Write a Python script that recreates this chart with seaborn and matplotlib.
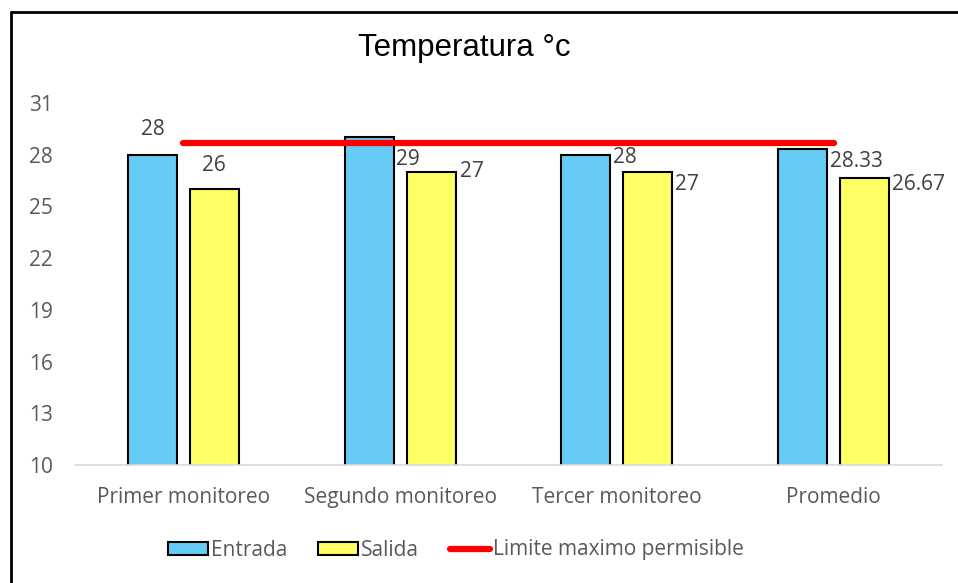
import matplotlib
matplotlib.use("Agg")
import matplotlib.pyplot as plt
import seaborn as sns
import pandas as pd
from matplotlib.patches import Patch
from matplotlib.lines import Line2D

# data
categorias = ["Primer monitoreo", "Segundo monitoreo", "Tercer monitoreo", "Promedio"]
entrada = [28, 29, 28, 28.33]
salida = [26, 27, 27, 26.67]
limite = 28.7
etiquetas_entrada = ["28", "29", "28", "28.33"]
etiquetas_salida = ["26", "27", "27", "26.67"]

sns.set_style("white")
plt.rcParams['font.family'] = ['Open Sans', 'DejaVu Sans']

df = pd.DataFrame({
    "categoria": categorias * 2,
    "valor": entrada + salida,
    "serie": ["Entrada"] * 4 + ["Salida"] * 4,
})

fig = plt.figure(figsize=(9.58, 5.83), dpi=100)
ax = fig.add_axes([75 / 958, 1 - 465 / 583, (942 - 75) / 958, (465 - 103) / 583])

azul = "#66CCF5"
amarillo = "#FFFF66"
sns.barplot(data=df, x="categoria", y="valor", hue="serie",
            palette=[azul, amarillo], saturation=1, width=0.572, gap=0.21,
            edgecolor="black", linewidth=1.5, ax=ax, legend=False,
            zorder=2)

# red limit line across category centers
ax.plot(range(len(categorias)), [limite] * len(categorias),
        color="#FF0000", linewidth=4.5, solid_capstyle="round", zorder=3)

ax.set_ylim(10, 31)
ax.set_xlim(-0.5, 3.5)
ax.set_yticks(range(10, 32, 3))
ax.set_xlabel("")
ax.set_ylabel("")
for s in ["top", "right", "left"]:
    ax.spines[s].set_visible(False)
ax.spines["bottom"].set_color("#D9D9D9")
ax.spines["bottom"].set_linewidth(1.2)
ax.tick_params(axis="both", length=0, labelsize=15, labelcolor="#595959")
ax.tick_params(axis="x", pad=16)
ax.tick_params(axis="y", pad=16)
ax.grid(False)

# data labels (offsets in points, Excel-like placement)
off_e = [(0, 18, "center"), (2, -16, "left"), (2, -2, "left"), (2, -9, "left")]
off_s = [(0, 17, "center"), (3, 0, "left"), (2, -9, "left"), (2, -5, "left")]
bars = ax.patches
bars_e = sorted(bars[:4], key=lambda b: b.get_x())
bars_s = sorted(bars[4:8], key=lambda b: b.get_x())
for b, txt, (dx, dy, ha) in zip(bars_e, etiquetas_entrada, off_e):
    x = b.get_x() + b.get_width() / 2 if ha == "center" else b.get_x() + b.get_width()
    ax.annotate(txt, (x, b.get_height()), xytext=(dx, dy), textcoords="offset points",
                ha=ha, va="center", fontsize=15, color="#404040")
for b, txt, (dx, dy, ha) in zip(bars_s, etiquetas_salida, off_s):
    x = b.get_x() + b.get_width() / 2 if ha == "center" else b.get_x() + b.get_width()
    ax.annotate(txt, (x, b.get_height()), xytext=(dx, dy), textcoords="offset points",
                ha=ha, va="center", fontsize=15, color="#404040")

fig.text(464 / 958, 1 - 48 / 583, "Temperatura °c", ha="center", va="center",
         fontsize=22.5, family="Liberation Sans", color="black")

handles = [
    Patch(facecolor=azul, edgecolor="black", linewidth=1.5),
    Patch(facecolor=amarillo, edgecolor="black", linewidth=1.5),
    Line2D([0], [0], color="#FF0000", linewidth=4.5, solid_capstyle="round"),
]
fig.legend(handles, ["Entrada", "Salida", "Limite maximo permisible"],
           loc="center", bbox_to_anchor=(456 / 958, 1 - 550 / 583), ncol=3,
           frameon=False, fontsize=15, labelcolor="#595959",
           handlelength=1.9, handleheight=0.6, handletextpad=0.15,
           columnspacing=1.5)

# outer frame (left and top edges)
fig.add_artist(Line2D([11 / 958, 11 / 958], [0, 1 - 12 / 583], color="black",
                      linewidth=2, transform=fig.transFigure))
fig.add_artist(Line2D([11 / 958, 1], [1 - 12 / 583, 1 - 12 / 583], color="black",
                      linewidth=2, transform=fig.transFigure))

fig.savefig("out.png", dpi=100)
